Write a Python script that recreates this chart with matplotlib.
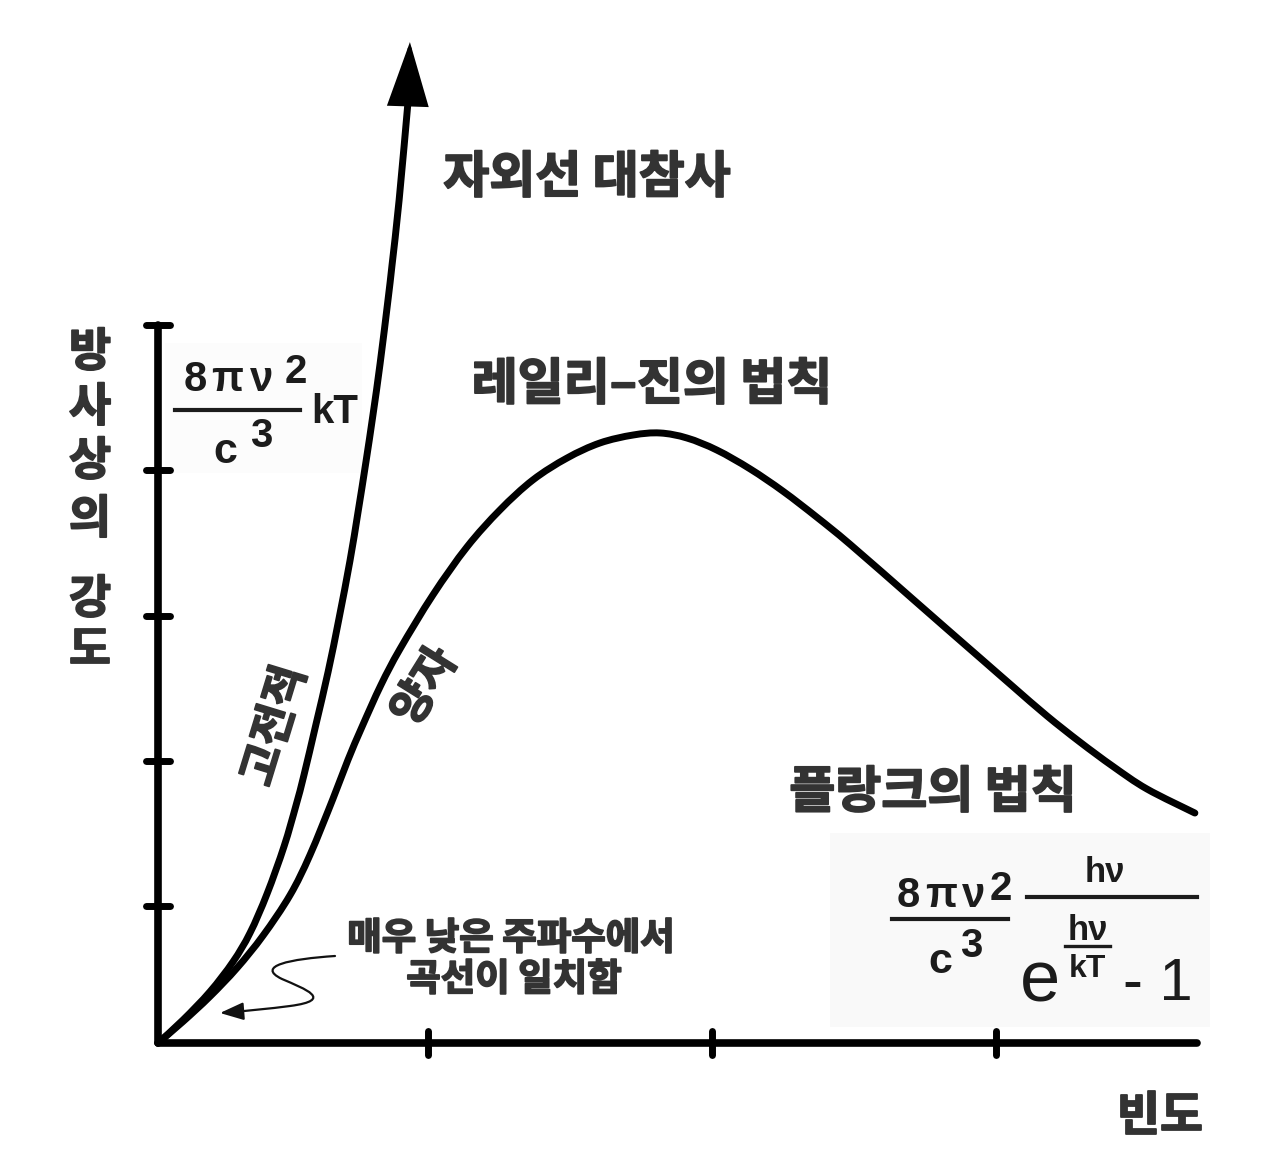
import matplotlib
matplotlib.use("Agg")
import matplotlib.pyplot as plt
import matplotlib.patheffects as pe
from matplotlib.patches import FancyArrowPatch, Rectangle, PathPatch
from matplotlib.path import Path

plt.rcParams["font.family"] = ["Noto Sans CJK KR", "DejaVu Sans"]

# classical (Rayleigh-Jeans) curve
RJ_FREQ = [0.000, 0.088, 0.183, 0.264, 0.324, 0.384, 0.444, 0.486, 0.514, 0.556, 0.599,
           0.637, 0.676, 0.704, 0.732, 0.757, 0.782, 0.810, 0.824, 0.849, 0.880]
RJ_INTENSITY = [0.000, 0.159, 0.354, 0.560, 0.759, 1.029, 1.357, 1.639, 1.848, 2.196, 2.560,
                2.924, 3.326, 3.657, 4.005, 4.333, 4.685, 5.127, 5.364, 5.813, 6.483]
RJ_TIP = (0.887, 6.903)

# quantum (Planck) curve
PLANCK_FREQ = [0.000, 0.088, 0.183, 0.278, 0.370, 0.465, 0.535, 0.616, 0.669, 0.718, 0.785,
               0.852, 0.968, 1.088, 1.204, 1.320, 1.440, 1.556, 1.673, 1.768, 1.863, 1.968,
               2.085, 2.201, 2.320, 2.437, 2.658, 2.778, 2.894, 3.011, 3.130, 3.246, 3.363,
               3.482, 3.651]
PLANCK_INTENSITY = [0.000, 0.148, 0.321, 0.517, 0.741, 1.020, 1.296, 1.684, 1.953, 2.179, 2.469,
                    2.717, 3.090, 3.421, 3.676, 3.883, 4.034, 4.138, 4.193, 4.207, 4.172, 4.089,
                    3.959, 3.805, 3.626, 3.439, 3.061, 2.855, 2.657, 2.457, 2.256, 2.076, 1.907,
                    1.752, 1.586]

X_TICKS = [0.95, 1.95, 2.95]
Y_TICKS = [0.945, 1.945, 2.945, 3.95, 4.95]
X_END = 3.658
Y_END = 4.95

Y_LABEL_CHARS = ["방", "사", "상", "의", "강", "도"]

# frame of the picture (pixels)
W, H = 1280, 1154
OX, OY = 158, 1043
PX_X, PX_Y = 284, 145

KO = dict(family=["Noto Sans CJK KR", "DejaVu Sans"], weight="black", color="#333333",
          ha="center", va="center",
          path_effects=[pe.withStroke(linewidth=1.3, foreground="#333333")])
MATH = dict(family=["Liberation Sans", "DejaVu Sans"], color="#1c1c1c", va="baseline",
            ha="center")
INK = "#000000"


def smooth_path(xs, ys):
    """Catmull-Rom through the read points, drawn as cubic Bezier segments."""
    pts = list(zip(xs, ys))
    verts, codes = [pts[0]], [Path.MOVETO]
    for i in range(len(pts) - 1):
        p0 = pts[i - 1] if i > 0 else pts[i]
        p1, p2 = pts[i], pts[i + 1]
        p3 = pts[i + 2] if i + 2 < len(pts) else pts[i + 1]
        c1 = (p1[0] + (p2[0] - p0[0]) / 6, p1[1] + (p2[1] - p0[1]) / 6)
        c2 = (p2[0] - (p3[0] - p1[0]) / 6, p2[1] - (p3[1] - p1[1]) / 6)
        verts += [c1, c2, p2]
        codes += [Path.CURVE4] * 3
    return Path(verts, codes)


fig = plt.figure(figsize=(W / 100, H / 100), dpi=100)

# annotation layer in pixel units (y down)
ann = fig.add_axes([0, 0, 1, 1])
ann.set_xlim(0, W)
ann.set_ylim(H, 0)
ann.axis("off")

# data layer
ax = fig.add_axes([0, 0, 1, 1])
ax.set_xlim(-OX / PX_X, (W - OX) / PX_X)
ax.set_ylim((OY - H) / PX_Y, OY / PX_Y)
ax.axis("off")
ax.patch.set_alpha(0)

# axes
ax.plot([0, X_END], [0, 0], color=INK, lw=5.5, solid_capstyle="round")
ax.plot([0, 0], [0, Y_END], color=INK, lw=5.5, solid_capstyle="round")
ax.vlines(X_TICKS, -12 / PX_Y, 12 / PX_Y, color=INK, lw=5, capstyle="round")
ax.hlines(Y_TICKS, -12 / PX_X, 12 / PX_X, color=INK, lw=5, capstyle="round")

# curves
for xs, ys in [(RJ_FREQ, RJ_INTENSITY), (PLANCK_FREQ, PLANCK_INTENSITY)]:
    ax.add_patch(PathPatch(smooth_path(xs, ys), fill=False, edgecolor=INK, lw=5,
                           capstyle="round", joinstyle="round"))
ax.add_patch(FancyArrowPatch((RJ_FREQ[-1], RJ_INTENSITY[-1]), RJ_TIP,
                             arrowstyle="-|>,head_length=40,head_width=13", mutation_scale=1,
                             shrinkA=0, shrinkB=0, color=INK, lw=3, joinstyle="miter"))

# labels
ann.text(587, 178, "자외선 대참사", size=36, **KO)
ann.text(652, 385, "레일리–진의 법칙", size=36, **KO)
ann.text(933, 793, "플랑크의 법칙", size=36, **KO)
ann.text(1160, 1117, "빈도", size=34, **KO)
for ch, y in zip(Y_LABEL_CHARS, [353, 408, 462, 520, 600, 651]):
    ann.text(90, y, ch, size=33, **KO)
ann.text(275, 726, "고전적", size=32, rotation=73, **KO)
ann.text(425, 687, "양자", size=32, rotation=58, **KO)
ann.text(511, 938, "매우 낮은 주파수에서", size=27, **KO)
ann.text(514, 979, "곡선이 일치함", size=27, **KO)

# squiggly pointer to the low-frequency region
squiggle = Path(
    [(335, 956), (290, 959), (255, 966), (282, 979),
     (305, 989), (335, 1000), (290, 1006), (260, 1010), (220, 1013)],
    [Path.MOVETO, Path.CURVE4, Path.CURVE4, Path.CURVE4,
     Path.CURVE4, Path.CURVE4, Path.CURVE4, Path.CURVE3, Path.CURVE3],
)
ann.add_patch(FancyArrowPatch(path=squiggle, arrowstyle="-|>,head_length=0.8,head_width=0.3",
                              mutation_scale=18, color="#111111", lw=1.6))

# formula backgrounds
ann.add_patch(Rectangle((165, 343), 197, 130, facecolor="#fcfcfc", edgecolor="none", zorder=0))
ann.add_patch(Rectangle((830, 833), 380, 194, facecolor="#f9f9f9", edgecolor="none", zorder=0))

# Rayleigh-Jeans formula
for ch, x in zip(["8", "π", "ν"], [195, 227, 262]):
    ann.text(x, 391, ch, size=30, weight="bold", **MATH)
ann.text(296, 383, "2", size=29, weight="bold", **MATH)
ann.plot([175, 300], [410, 410], color="#1c1c1c", lw=3)
ann.text(225, 463, "c", size=31, weight="bold", **MATH)
ann.text(261, 447, "3", size=29, weight="bold", **MATH)
ann.text(335, 423, "kT", size=29, weight="bold", **MATH)

# Planck formula
for ch, x in zip(["8", "π", "ν"], [908, 941, 974]):
    ann.text(x, 907, ch, size=30, weight="bold", **MATH)
ann.text(1001, 900, "2", size=29, weight="bold", **MATH)
ann.plot([892, 1008], [919, 919], color="#1c1c1c", lw=3)
ann.text(940, 973, "c", size=31, weight="bold", **MATH)
ann.text(971, 957, "3", size=29, weight="bold", **MATH)
ann.text(1105, 882, "hν", size=25, weight="bold", **MATH)
ann.plot([1027, 1197], [897, 897], color="#1c1c1c", lw=3)
ann.text(1088, 940, "hν", size=25, weight="bold", **MATH)
ann.plot([1065, 1110], [946, 946], color="#1c1c1c", lw=2.4)
ann.text(1087, 977, "kT", size=23, weight="bold", **MATH)
ann.text(1040, 1002, "e", size=52, **MATH)
MATH_LEFT = dict(MATH, ha="left")
ann.text(1123, 1000, "- 1", size=43, **MATH_LEFT)

fig.savefig("out.png", dpi=100)
